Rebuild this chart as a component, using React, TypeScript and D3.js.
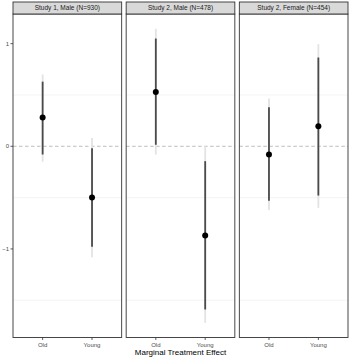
import React from "react";
import * as d3 from "d3";

const panels = ["Study 1, Male (N=930)", "Study 2, Male (N=478)", "Study 2, Female (N=454)"];
const groups = ["Old", "Young"];
// per panel: [Old, Young]
const estimates = [
  [0.28, -0.5],
  [0.53, -0.87],
  [-0.08, 0.195],
];
const inner90Low = [
  [-0.08, -0.98],
  [0.015, -1.59],
  [-0.53, -0.48],
];
const inner90High = [
  [0.63, -0.02],
  [1.05, -0.145],
  [0.38, 0.865],
];
const outer95Low = [
  [-0.15, -1.08],
  [-0.08, -1.72],
  [-0.62, -0.6],
];
const outer95High = [
  [0.7, 0.08],
  [1.145, 0.0],
  [0.465, 0.995],
];
const yTicks = [1, 0, -1];
const minorGrid = [0.5, -0.5, -1.5];
const xTitle = "Marginal Treatment Effect";

const W = 352;
const H = 359;
const left = 13;
const right = 348;
const gap = 4.5;
const panelTop = 14;
const stripTop = 2;
const panelBottom = 337.5;
const pw = (right - left - 2 * gap) / 3;

export default function App() {
  const y = d3.scaleLinear().domain([-1.863, 1.289]).range([panelBottom, panelTop]);
  const font = "'Liberation Sans', Arial, sans-serif";
  return (
    <svg width={W} height={H} style={{ position: "absolute", left: 0, top: 0, background: "#fff" }}>
      <rect x={0} y={0} width={W} height={H} fill="#fff" />
      {yTicks.map((t) => (
        <g key={t}>
          <line x1={10.5} x2={left} y1={y(t)} y2={y(t)} stroke="#333" strokeWidth={0.8} />
          <text x={9} y={y(t)} dy="0.35em" textAnchor="end" fontSize={6} fill="#4d4d4d" fontFamily={font}>
            {t < 0 ? "\u2212" + Math.abs(t) : String(t)}
          </text>
        </g>
      ))}
      {panels.map((p, i) => {
        const x0 = left + i * (pw + gap);
        const x = d3.scalePoint<string>().domain(groups).range([x0, x0 + pw]).padding(0.6);
        return (
          <g key={p}>
            {minorGrid.map((g) => (
              <line key={g} x1={x0} x2={x0 + pw} y1={y(g)} y2={y(g)} stroke="#f0f0f0" strokeWidth={0.8} />
            ))}
            <line x1={x0} x2={x0 + pw} y1={y(0)} y2={y(0)} stroke="#bdbdbd" strokeWidth={1} strokeDasharray="3.5,2.5" />
            {groups.map((g, j) => {
              const cx = x(g)!;
              return (
                <g key={g}>
                  <line x1={cx} x2={cx} y1={y(outer95Low[i][j])} y2={y(outer95High[i][j])} stroke="#e3e3e3" strokeWidth={1.8} />
                  <line x1={cx} x2={cx} y1={y(inner90Low[i][j])} y2={y(inner90High[i][j])} stroke="#4a4a4a" strokeWidth={1.8} />
                  <circle cx={cx} cy={y(estimates[i][j])} r={3} fill="#000" />
                  <line x1={cx} x2={cx} y1={panelBottom} y2={panelBottom + 2.5} stroke="#333" strokeWidth={0.8} />
                  <text x={cx} y={344.5} dy="0.35em" textAnchor="middle" fontSize={6} fill="#4d4d4d" fontFamily={font}>
                    {g}
                  </text>
                </g>
              );
            })}
            <rect x={x0} y={panelTop} width={pw} height={panelBottom - panelTop} fill="none" stroke="#333" strokeWidth={0.9} />
            <rect x={x0} y={stripTop} width={pw} height={panelTop - stripTop} fill="#d9d9d9" stroke="#333" strokeWidth={0.9} />
            <text x={x0 + pw / 2} y={(stripTop + panelTop) / 2} dy="0.35em" textAnchor="middle" fontSize={6.5} fill="#1a1a1a" fontFamily={font}>
              {p}
            </text>
          </g>
        );
      })}
      <text x={(left + right) / 2} y={352.5} dy="0.35em" textAnchor="middle" fontSize={8} fill="#000" fontFamily={font}>
        {xTitle}
      </text>
    </svg>
  );
}
